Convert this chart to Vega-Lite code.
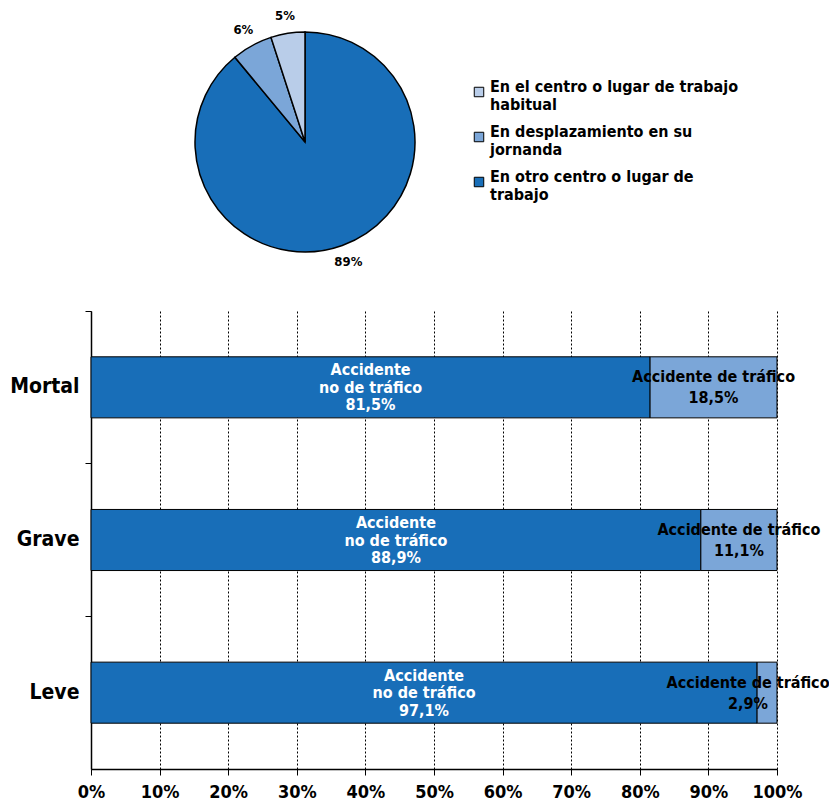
{
  "$schema": "https://vega.github.io/schema/vega-lite/v6.json",
  "padding": {"left": 9, "top": 0, "right": 5, "bottom": 0},
  "background": "white",
  "config": {
    "view": {"stroke": null},
    "font": "DejaVu Sans Condensed"
  },
  "spacing": 26,
  "resolve": {"scale": {"color": "independent"}, "legend": {"color": "independent"}},
  "vconcat": [
    {
      "width": 428,
      "height": 284,
      "data": {
        "values": [
          {"cat": "En otro centro o lugar de trabajo", "value": 89, "o": 1},
          {"cat": "En desplazamiento en su jornanda", "value": 6, "o": 2},
          {"cat": "En el centro o lugar de trabajo habitual", "value": 5, "o": 3}
        ]
      },
      "transform": [{"calculate": "datum.value + '%'", "as": "pct"}],
      "encoding": {
        "theta": {"field": "value", "type": "quantitative", "stack": true},
        "order": {"field": "o", "type": "quantitative"},
        "color": {
          "field": "cat",
          "type": "nominal",
          "scale": {
            "domain": ["En el centro o lugar de trabajo habitual", "En desplazamiento en su jornanda", "En otro centro o lugar de trabajo"],
            "range": ["#b9cde9", "#7ba6d8", "#186eb8"]
          },
          "legend": {
            "title": null,
            "orient": "none",
            "legendX": 380,
            "legendY": 84,
            "symbolType": "square",
            "symbolSize": 90,
            "symbolStrokeColor": "#000",
            "symbolStrokeWidth": 1,
            "labelFont": "DejaVu Sans Condensed",
            "labelFontWeight": "bold",
            "labelFontSize": 16,
            "labelColor": "#000",
            "labelBaseline": "alphabetic",
            "labelOffset": 3,
            "labelLimit": 400,
            "rowPadding": 11,
            "labelExpr": "datum.value == 'En el centro o lugar de trabajo habitual' ? ['En el centro o lugar de trabajo', 'habitual'] : datum.value == 'En desplazamiento en su jornanda' ? ['En desplazamiento en su', 'jornanda'] : ['En otro centro o lugar de', 'trabajo']"
          }
        }
      },
      "layer": [
        {"mark": {"type": "arc", "outerRadius": 110, "stroke": "#000", "strokeWidth": 1.5}},
        {
          "mark": {"type": "text", "radius": 128, "fontSize": 13, "fontWeight": "bold", "color": "#000"},
          "encoding": {
            "text": {"field": "pct"},
            "color": {"value": "#000"}
          }
        }
      ]
    },
    {
      "width": 686,
      "height": 458,
      "data": {
        "values": [
          {"sev": "Mortal", "tipo": "no", "value": 81.5, "o": 1},
          {"sev": "Mortal", "tipo": "si", "value": 18.5, "o": 2},
          {"sev": "Grave", "tipo": "no", "value": 88.9, "o": 1},
          {"sev": "Grave", "tipo": "si", "value": 11.1, "o": 2},
          {"sev": "Leve", "tipo": "no", "value": 97.1, "o": 1},
          {"sev": "Leve", "tipo": "si", "value": 2.9, "o": 2}
        ]
      },
      "transform": [
        {"stack": "value", "groupby": ["sev"], "sort": [{"field": "o"}], "as": ["v0", "v1"]},
        {"calculate": "(datum.v0 + datum.v1) / 2", "as": "mid"},
        {"calculate": "(datum.tipo == 'no' ? 'Accidente\\nno de tráfico\\n' : 'Accidente de tráfico\\n') + replace(format(datum.value, '.1f'), '.', ',') + '%'", "as": "lbl"}
      ],
      "encoding": {
        "y": {
          "field": "sev",
          "type": "nominal",
          "sort": ["Mortal", "Grave", "Leve"],
          "scale": {"paddingInner": 0.6, "paddingOuter": 0.3},
          "axis": {
            "title": null,
            "domainColor": "#000",
            "domainWidth": 1.5,
            "tickColor": "#000",
            "tickSize": 6,
            "bandPosition": -0.75,
            "labelFont": "DejaVu Sans Condensed",
            "labelFontWeight": "bold",
            "labelFontSize": 21,
            "labelColor": "#000",
            "labelPadding": 6
          }
        }
      },
      "layer": [
        {
          "mark": {"type": "bar", "stroke": "#000", "strokeWidth": 1},
          "encoding": {
            "x": {
              "field": "v0",
              "type": "quantitative",
              "scale": {"domain": [0, 100]},
              "axis": {
                "title": null,
                "values": [0, 10, 20, 30, 40, 50, 60, 70, 80, 90, 100],
                "labelExpr": "datum.value + '%'",
                "domainColor": "#000",
                "domainWidth": 1.5,
                "tickColor": "#000",
                "tickSize": 6,
                "grid": true,
                "gridColor": "#000",
                "gridDash": [2, 2],
                "gridWidth": 1,
                "labelFont": "DejaVu Sans Condensed",
                "labelFontWeight": "bold",
                "labelFontSize": 18,
                "labelColor": "#000",
                "labelPadding": 8,
                "labelFlush": false
              }
            },
            "x2": {"field": "v1"},
            "color": {
              "field": "tipo",
              "type": "nominal",
              "scale": {"domain": ["no", "si"], "range": ["#186eb8", "#7ba6d8"]},
              "legend": null
            }
          }
        },
        {
          "transform": [{"filter": "datum.tipo == 'no'"}],
          "mark": {"type": "text", "color": "#fff", "fontSize": 16, "fontWeight": "bold", "lineBreak": "\n", "lineHeight": 17.5, "baseline": "middle", "dy": -17},
          "encoding": {
            "x": {"field": "mid", "type": "quantitative"},
            "text": {"field": "lbl"}
          }
        },
        {
          "transform": [{"filter": "datum.tipo == 'si' && datum.sev != 'Leve'"}],
          "mark": {"type": "text", "color": "#000", "fontSize": 16, "fontWeight": "bold", "lineBreak": "\n", "lineHeight": 21, "baseline": "middle", "dy": -10},
          "encoding": {
            "x": {"field": "mid", "type": "quantitative"},
            "text": {"field": "lbl"}
          }
        },
        {
          "transform": [{"filter": "datum.tipo == 'si' && datum.sev == 'Leve'"}],
          "mark": {"type": "text", "color": "#000", "fontSize": 16, "fontWeight": "bold", "lineBreak": "\n", "lineHeight": 21, "baseline": "middle", "dy": -10, "dx": -19},
          "encoding": {
            "x": {"field": "mid", "type": "quantitative"},
            "text": {"field": "lbl"}
          }
        }
      ]
    }
  ]
}
